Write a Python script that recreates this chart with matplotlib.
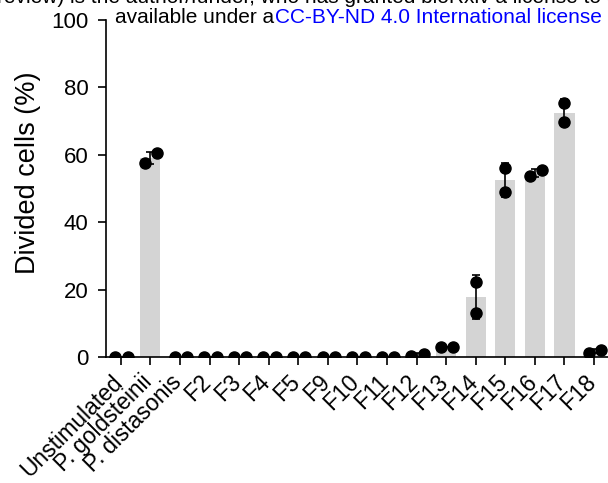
import numpy as np
import matplotlib
matplotlib.use('Agg')
import matplotlib.pyplot as plt
from matplotlib.transforms import ScaledTranslation, blended_transform_factory

plt.rcParams['font.family'] = ['Liberation Sans', 'DejaVu Sans']

categories = ['Unstimulated', 'P. goldsteinii', 'P. distasonis', 'F2', 'F3', 'F4', 'F5',
              'F9', 'F10', 'F11', 'F12', 'F13', 'F14', 'F15', 'F16', 'F17', 'F18']
rep1 = [0.0, 57.7, 0.0, 0.0, 0.0, 0.0, 0.0, 0.0, 0.0, 0.0, 0.2, 3.0, 22.3, 56.1, 53.7, 75.4, 1.3]
rep2 = [0.0, 60.4, 0.0, 0.0, 0.0, 0.0, 0.0, 0.0, 0.0, 0.0, 0.9, 3.0, 13.2, 49.0, 55.4, 69.7, 2.1]
yticks = [0, 20, 40, 60, 80, 100]

W, H = 608, 483
fig = plt.figure(figsize=(W / 100, H / 100), dpi=100)
ax = fig.add_axes([106 / W, (H - 357) / H, 1 - 106 / W, (357 - 20) / H])

vals = np.array([rep1, rep2])
x = np.arange(len(categories))
means = vals.mean(axis=0)
sds = vals.std(axis=0, ddof=1)

ax.bar(x, means, width=0.68, color='#d4d4d4', zorder=1)
ax.errorbar(x, means, yerr=sds, fmt='none', ecolor='black', elinewidth=1.2,
            capsize=3, capthick=1.2, zorder=2)

# spread the two replicate dots sideways when they would overlap
lo = vals.min(axis=0)
hi = vals.max(axis=0)
close = np.abs(hi - lo) < 3.5
xl = np.where(close, x - 0.18, x)
xh = np.where(close, x + 0.24, x)
ax.plot(xl, lo, 'o', color='black', markersize=8, zorder=3)
ax.plot(xh, hi, 'o', color='black', markersize=8, zorder=3)

ax.set_xlim(-0.5, (W - 106) / 29.58 - 0.5)
ax.set_ylim(0, 100)
ax.set_yticks(yticks)
ax.set_xticks(x)
ax.set_xticklabels([])

# rotated category labels, drawn by hand so they can sit like the original
trans = blended_transform_factory(ax.transData, ax.transAxes) + \
    ScaledTranslation(-10 / 100, -13.4 / 100, fig.dpi_scale_trans)
for xi, name in zip(x, categories):
    ax.text(xi, 0, name, transform=trans, rotation=45, ha='right', va='top',
            rotation_mode='anchor', fontsize=16.5, clip_on=False)

ax.spines['top'].set_visible(False)
ax.spines['right'].set_visible(False)
ax.spines['left'].set_linewidth(1.2)
ax.spines['bottom'].set_linewidth(1.2)
ax.tick_params(axis='both', length=5.5, width=1.2, color='black')
ax.tick_params(axis='y', pad=7, labelsize=16)
ax.set_ylabel('Divided cells (%)', fontsize=19.5)
ax.yaxis.set_label_coords(-0.13, (357 - 173) / 337)

# bioRxiv header lines, cut off by the crop
fig.text(-3 / W, 1 - 3 / H, 'review) is the author/funder, who has granted bioRxiv a license to display the preprint in perpetuity. It is made',
         fontsize=15, va='baseline', ha='left')
t1 = fig.text(115 / W, 1 - 22.7 / H, 'available under a', fontsize=15, va='baseline', ha='left')
fig.canvas.draw()
bb = t1.get_window_extent()
fig.text(bb.x1 / W + 1 / W, 1 - 22.7 / H, 'CC-BY-ND 4.0 International license', fontsize=15,
         va='baseline', ha='left', color='#0000ff')

fig.savefig('out.png', dpi=100)
